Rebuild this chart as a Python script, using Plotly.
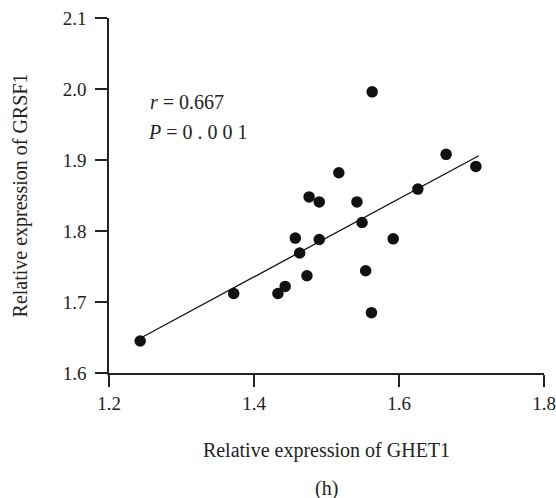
import plotly.graph_objects as go

# Data
ghet1 = [1.243, 1.372, 1.433, 1.443, 1.473, 1.463, 1.457, 1.490, 1.476, 1.490,
         1.517, 1.542, 1.549, 1.554, 1.562, 1.592, 1.626, 1.665, 1.706, 1.563]
grsf1 = [1.645, 1.712, 1.712, 1.722, 1.737, 1.769, 1.790, 1.788, 1.848, 1.841,
         1.882, 1.841, 1.812, 1.744, 1.685, 1.789, 1.859, 1.908, 1.891, 1.996]
fit_x = [1.245, 1.710]
fit_y = [1.650, 1.906]
x_ticks = [1.2, 1.4, 1.6, 1.8]
y_ticks = [1.6, 1.7, 1.8, 1.9, 2.0, 2.1]

FONT = "Liberation Serif"
TXT = "#222222"

fig = go.Figure()
fig.add_trace(go.Scatter(x=fit_x, y=fit_y, mode="lines",
                         line=dict(color="#111111", width=1.3),
                         showlegend=False, hoverinfo="skip"))
fig.add_trace(go.Scatter(x=ghet1, y=grsf1, mode="markers",
                         marker=dict(color="#111111", size=11.5, line=dict(width=0)),
                         showlegend=False))

fig.add_annotation(x=1.254, y=1.982, xref="x", yref="y", xanchor="left", yanchor="middle",
                   text="<i>r</i> = 0.667", showarrow=False,
                   font=dict(family=FONT, size=20, color=TXT))
fig.add_annotation(x=1.251, y=1.939, xref="x", yref="y", xanchor="left", yanchor="middle",
                   text="<i>P</i> = 0 . 0 0 1", showarrow=False,
                   font=dict(family=FONT, size=20, color=TXT))
fig.add_annotation(x=0.5, y=-0.324, xref="paper", yref="paper", xanchor="center", yanchor="middle",
                   text="(h)", showarrow=False,
                   font=dict(family=FONT, size=20, color=TXT))

fig.update_layout(
    width=556, height=498,
    margin=dict(l=109, r=12, t=18, b=125),
    paper_bgcolor="white", plot_bgcolor="white",
    font=dict(family=FONT, size=19, color=TXT),
    xaxis=dict(range=[1.2, 1.8], tickvals=x_ticks, ticktext=[f"{v:.1f}" for v in x_ticks],
               showgrid=False, zeroline=False, showline=True, linecolor=TXT, linewidth=1.5,
               ticks="outside", ticklen=12, tickwidth=1.5, tickcolor=TXT,
               tickfont=dict(family=FONT, size=19, color=TXT),
               ticklabeloverflow="allow",
               title=dict(text="Relative expression of GHET1", standoff=30,
                          font=dict(family=FONT, size=20, color=TXT)),
               automargin=False),
    yaxis=dict(range=[1.6, 2.1], tickvals=y_ticks, ticktext=[f"{v:.1f}" for v in y_ticks],
               showgrid=False, zeroline=False, showline=True, linecolor=TXT, linewidth=1.5,
               ticks="outside", ticklen=12, tickwidth=1.5, tickcolor=TXT,
               tickfont=dict(family=FONT, size=19, color=TXT),
               ticklabeloverflow="allow", ticklabelstandoff=5,
               title=dict(text="Relative expression of GRSF1", standoff=30,
                          font=dict(family=FONT, size=20, color=TXT)),
               automargin=False),
)

# remove the browser's default 8px page margin so the figure fills the window exactly
fig.write_html("out.html", config={"displayModeBar": False},
               post_script="document.body.style.margin='0';document.body.style.overflow='hidden';")
